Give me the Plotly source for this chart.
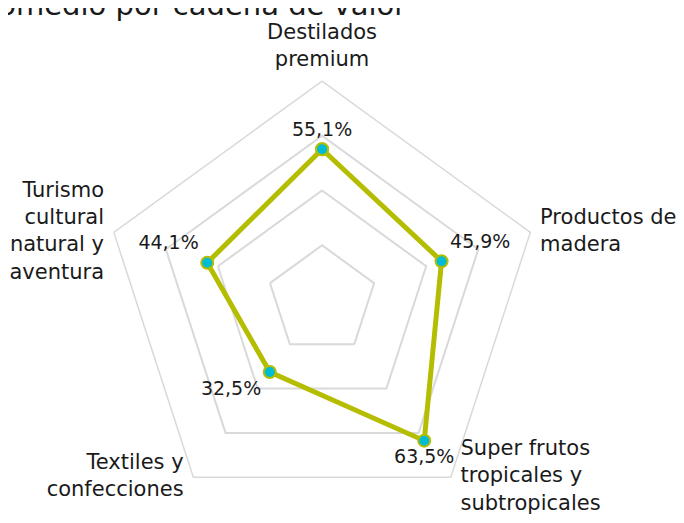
import plotly.graph_objects as go

categories = ["Destilados<br>premium", "Productos de<br>madera",
              "Super frutos<br>tropicales y<br>subtropicales",
              "Textiles y<br>confecciones",
              "Turismo<br>cultural<br>natural y<br>aventura"]
values = [55.1, 45.9, 63.5, 32.5, 44.1]
value_labels = ["55,1%", "45,9%", "63,5%", "32,5%", "44,1%"]
title_text = "Promedio por cadena de valor"

value_label_positions = ["top center", "top right", "bottom center", "bottom left", "top left"]
category_label_positions = ["top center", "middle right", "middle right", "middle left", "middle left"]
RMAX = 80

FONT = "DejaVu Sans"
LINE = "#b5bd00"
MARK = "#00bcd4"
GRID = "#d9d9d9"
TXT = "#1a1a1a"

fig = go.Figure()
fig.add_trace(go.Scatterpolar(
    r=values + [values[0]],
    theta=categories + [categories[0]],
    mode="lines+markers+text",
    text=value_labels + [""],
    textposition=value_label_positions + ["top center"],
    textfont=dict(family=FONT, size=19, color=TXT),
    line=dict(color=LINE, width=5),
    marker=dict(color=MARK, size=12, line=dict(color=LINE, width=2)),
    cliponaxis=False,
    showlegend=False,
))
# category labels at the outer ring
fig.add_trace(go.Scatterpolar(
    r=[RMAX] * len(categories),
    theta=categories,
    mode="markers+text",
    text=categories,
    textposition=category_label_positions,
    textfont=dict(family=FONT, size=21, color=TXT),
    marker=dict(size=14, opacity=0),
    hoverinfo="skip",
    cliponaxis=False,
    showlegend=False,
))

fig.update_layout(
    width=684, height=523,
    margin=dict(l=0, r=0, t=0, b=0),
    paper_bgcolor="white",
    font=dict(family=FONT, size=21, color=TXT),
    polar=dict(
        domain=dict(x=[0.139, 0.7793], y=[0.0229, 0.8603]),
        bgcolor="white",
        gridshape="linear",
        radialaxis=dict(range=[0, RMAX], dtick=20, showticklabels=False, ticks="",
                        showline=False, gridcolor=GRID, gridwidth=1.5),
        angularaxis=dict(direction="clockwise", rotation=90, showline=True,
                         linecolor=GRID, linewidth=1.5,
                         showgrid=False, ticks="", showticklabels=False),
    ),
    annotations=[dict(text=title_text, xref="paper", yref="paper",
                      x=-0.058, y=1.005, xanchor="left", yanchor="middle",
                      showarrow=False,
                      font=dict(family=FONT, size=29, color=TXT))],
)

fig.write_html("out.html")
